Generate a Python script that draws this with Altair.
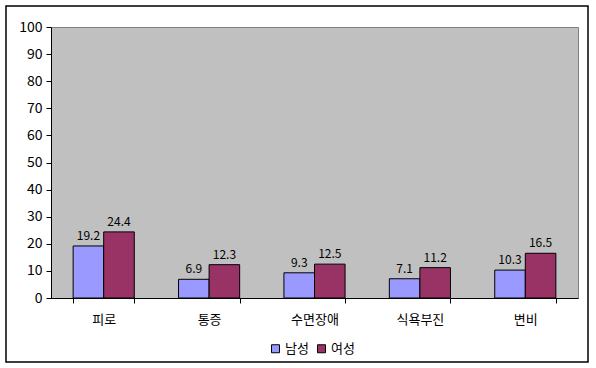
import altair as alt
import pandas as pd

categories = ["피로", "통증", "수면장애", "식욕부진", "변비"]
series = ["남성", "여성"]
male = [19.2, 6.9, 9.3, 7.1, 10.3]
female = [24.4, 12.3, 12.5, 11.2, 16.5]
colors = ["#9999FF", "#993366"]
yticks = [0, 10, 20, 30, 40, 50, 60, 70, 80, 90, 100]

rows = []
for c, m, f in zip(categories, male, female):
    rows.append({"cat": c, "sex": series[0], "v": m})
    rows.append({"cat": c, "sex": series[1], "v": f})
df = pd.DataFrame(rows)

FONT = "Noto Sans CJK KR"

x = alt.X("cat:N", sort=categories, title=None,
          scale=alt.Scale(paddingInner=0.42, paddingOuter=0.21),
          axis=alt.Axis(labelAngle=0, tickBand="extent", domainColor="black",
                        tickColor="black", tickSize=5, labelFontSize=13,
                        labelColor="black", labelPadding=10, labelFont=FONT))
xo = alt.XOffset("sex:N", sort=series, scale=alt.Scale(paddingInner=0, paddingOuter=0))
y = alt.Y("v:Q", title=None,
          scale=alt.Scale(domain=[0, 100], nice=False),
          axis=alt.Axis(values=yticks, grid=False, domainColor="black",
                        tickColor="black", tickSize=5, labelFontSize=14,
                        labelColor="black", labelPadding=4, labelFont=FONT,
                        labelOverlap=False, labelBound=False, labelFlush=False))

bars = alt.Chart(df).mark_bar(stroke="black", strokeWidth=1).encode(
    x=x, xOffset=xo, y=y,
    color=alt.Color("sex:N", sort=series,
                    scale=alt.Scale(domain=series, range=colors),
                    legend=alt.Legend(title=None, orient="none", direction="horizontal",
                                      legendX=218, legendY=315, symbolType="square",
                                      symbolSize=64, symbolStrokeColor="black",
                                      symbolStrokeWidth=1, labelFontSize=13,
                                      labelFont=FONT, labelColor="black",
                                      columnPadding=6, labelOffset=3)),
)

labels = alt.Chart(df).mark_text(dy=-10, fontSize=12, font=FONT, color="black").encode(
    x=x, xOffset=xo, y=y,
    text=alt.Text("v:Q", format=".1f"),
)

frame = alt.Chart(pd.DataFrame({"a": [0]})).mark_rect(
    fill=None, stroke="black", strokeWidth=1.5, clip=False
).encode(x=alt.value(-45), x2=alt.value(537), y=alt.value(-21), y2=alt.value(335))

chart = alt.layer(frame, bars, labels).properties(
    width=527, height=271,
    autosize=alt.AutoSizeParams(type="none"),
    padding={"left": 51, "top": 27, "right": 18, "bottom": 70},
    background="white",
).configure_view(fill="#C0C0C0", stroke="#808080", strokeWidth=1)

chart.save("out.html", embed_options={"renderer": "svg", "actions": False})
